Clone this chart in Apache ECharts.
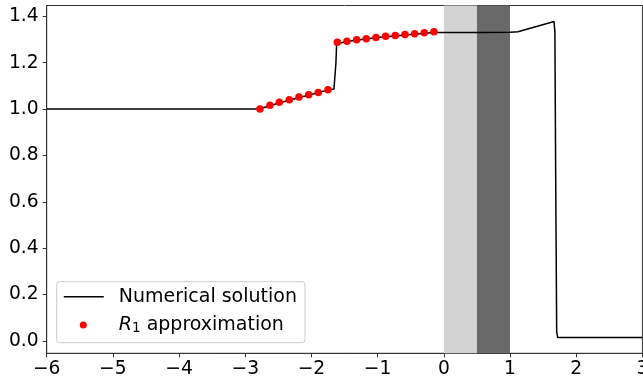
<!DOCTYPE html>
<html><head><meta charset="utf-8">
<script src="https://cdn.jsdelivr.net/npm/echarts@6/dist/echarts.min.js"></script>
<style>html,body{margin:0;padding:0;background:#fff}#c{width:643px;height:377px}</style>
</head><body><div id="c"></div>
<script>
const xTicks = [-6, -5, -4, -3, -2, -1, 0, 1, 2, 3];
const yTicks = [0, 0.2, 0.4, 0.6, 0.8, 1.0, 1.2, 1.4];

const numericalX = [-6, -2.80, -2.77, -2.62, -2.48, -2.33, -2.19, -2.04, -1.90, -1.75, -1.66, -1.645, -1.63, -1.62, -1.605, -1.45, -1.0, -0.5, -0.15, 0.0, 0.5, 1.0, 1.12, 1.40, 1.665, 1.678, 1.69, 1.705, 1.72, 3];
const numericalY = [1.0, 1.0, 1.001, 1.014, 1.027, 1.038, 1.050, 1.060, 1.071, 1.082, 1.087, 1.092, 1.2, 1.281, 1.288, 1.293, 1.309, 1.322, 1.330, 1.331, 1.331, 1.332, 1.334, 1.356, 1.378, 1.33, 0.7, 0.04, 0.014, 0.014];

const approxX = [-2.778, -2.627, -2.486, -2.335, -2.189, -2.042, -1.897, -1.751,
                 -1.61, -1.464, -1.317, -1.172, -1.026, -0.879, -0.734, -0.587, -0.441, -0.296, -0.150];
const approxY = [1.000, 1.016, 1.029, 1.040, 1.052, 1.062, 1.072, 1.083,
                 1.288, 1.293, 1.299, 1.303, 1.309, 1.314, 1.318, 1.322, 1.325, 1.329, 1.334];

const bandStart = [0, 0.5];
const bandEnd = [0.5, 1];

const xMin = -6, xMax = 3, yMin = -0.054, yMax = 1.447;

const FONT = 'DejaVu Sans';
const bandColors = ['#d3d3d3', '#696969'];

const chart = echarts.init(document.getElementById('c'), null, {renderer: 'canvas'});
const minus = s => String(s).replace('-', '\u2212');

chart.setOption({
  animation: false,
  backgroundColor: '#fff',
  grid: {left: 46.7, right: 0.6, top: 5.5, bottom: 23.7, show: true, borderColor: '#333', borderWidth: 1, containLabel: false, outerBoundsMode: 'none'},
  xAxis: {
    type: 'value', min: xMin, max: xMax, interval: 1,
    axisLine: {onZero: false, lineStyle: {color: '#333', width: 1}},
    axisTick: {show: true, length: 4, lineStyle: {color: '#333'}, customValues: xTicks},
    axisLabel: {customValues: xTicks, showMinLabel: true, showMaxLabel: true, hideOverlap: false, color: '#000', fontFamily: FONT, fontSize: 18.7, margin: 6, formatter: v => minus(v)},
    splitLine: {show: false}
  },
  yAxis: {
    type: 'value', min: yMin, max: yMax,
    axisLine: {onZero: false, show: true, lineStyle: {color: '#333', width: 1}},
    axisTick: {show: true, length: 4, lineStyle: {color: '#333'}, customValues: yTicks},
    axisLabel: {customValues: yTicks, color: '#000', fontFamily: FONT, fontSize: 18.7, margin: 8, formatter: v => minus(v.toFixed(1))},
    splitLine: {show: false}
  },
  legend: [
    {data: ['Numerical solution'], left: 63, top: 286.7, padding: 0, itemWidth: 40, itemHeight: 14, selectedMode: false,
     itemStyle: {opacity: 0}, lineStyle: {color: '#000', width: 1.5},
     textStyle: {fontFamily: FONT, fontSize: 19, color: '#000', padding: [0, 0, 0, 10], lineHeight: 20}},
    {data: ['R1 approximation'], left: 79.8, top: 315, padding: 0, itemWidth: 7, itemHeight: 7, selectedMode: false,
     formatter: () => '{sp|}{r|R}{s|1} approximation',
     textStyle: {fontFamily: FONT, fontSize: 19, color: '#000', lineHeight: 20,
       rich: {sp: {width: 27, height: 1},
              r: {fontFamily: FONT, fontSize: 19, fontStyle: 'italic', color: '#000'},
              s: {fontFamily: FONT, fontSize: 13.5, color: '#000', padding: [7, 0, 0, 0]}}}}
  ],
  graphic: [{type: 'rect', z: 3, shape: {x: 56.7, y: 281.7, width: 248.3, height: 61, r: 3},
             style: {fill: 'rgba(255,255,255,0.8)', stroke: '#cccccc', lineWidth: 1}}],
  series: [
    {type: 'custom', name: 'bands', z: 1, silent: true,
     data: bandStart.map((s, i) => [s, bandEnd[i]]),
     encode: {x: [0, 1]},
     renderItem: (params, api) => {
       const x0 = api.coord([api.value(0), 0])[0];
       const x1 = api.coord([api.value(1), 0])[0];
       const cs = params.coordSys;
       return {type: 'rect', shape: {x: x0, y: cs.y, width: x1 - x0, height: cs.height},
               style: {fill: bandColors[params.dataIndex]}};
     }},
    {type: 'line', name: 'Numerical solution', z: 5, symbol: 'none', showSymbol: false,
     lineStyle: {color: '#000', width: 1.5}, itemStyle: {color: '#000'},
     data: numericalX.map((x, i) => [x, numericalY[i]])},
    {type: 'scatter', name: 'R1 approximation', z: 6, symbol: 'circle', symbolSize: 7.5,
     itemStyle: {color: '#ff0000', opacity: 1},
     data: approxX.map((x, i) => [x, approxY[i]])}
  ]
});
</script></body></html>
